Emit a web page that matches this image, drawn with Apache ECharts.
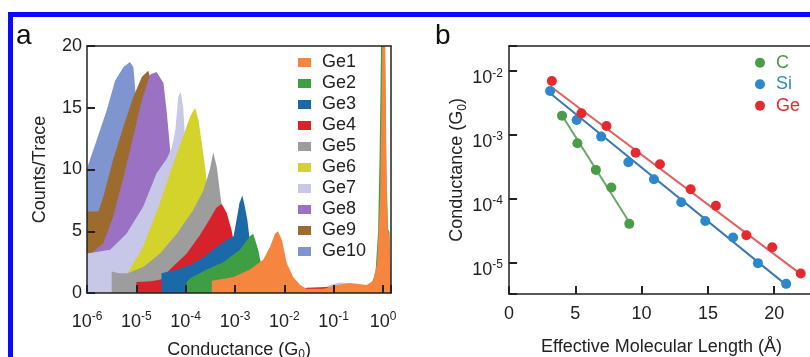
<!DOCTYPE html>
<html>
<head>
<meta charset="utf-8">
<script src="https://cdn.jsdelivr.net/npm/echarts@6/dist/echarts.min.js"></script>
<style>html,body{margin:0;padding:0;background:#fff}#c{width:810px;height:357px}</style>
</head>
<body>
<div id="c"></div>
<script>
// ---------- Panel a: conductance histograms ([conductance G0, counts/trace]) ----------
const namesA = ['Ge1','Ge2','Ge3','Ge4','Ge5','Ge6','Ge7','Ge8','Ge9','Ge10'];
const colorsA = ['#f5853f','#3f9e44','#1b69a8','#d8222b','#9d9d9d','#d3d32b','#c7c7e8','#9b72c3','#9e6b2f','#7f95d0'];

const ge1 = [[3.39e-4,1.0],[9.33e-4,1.3],[2.0e-3,1.9],[3.72e-3,2.7],[5.13e-3,3.75],[6.46e-3,4.8],[7.41e-3,5.0],[8.91e-3,4.3],[1.12e-2,2.4],[1.51e-2,1.3],[2.09e-2,0.65],[2.82e-2,0.35],[6.31e-2,0.35],[0.1,0.6],[0.214,0.8],[0.468,0.65],[0.631,1.0],[0.759,2.4],[0.871,7.5],[0.933,15.6],[0.977,22],[1.047,26],[1.096,22],[1.175,10],[1.259,5],[1.349,4.6],[1.45,4.6]];
const ge2 = [[1.05e-4,0.9],[1.23e-4,1.2],[2.69e-4,1.9],[5.75e-4,2.5],[1.26e-3,3.5],[2.0e-3,4.6],[2.34e-3,4.8],[2.95e-3,3.5],[3.47e-3,2.1],[4.07e-3,1.3],[5.01e-3,0.8],[7.94e-3,0.2],[0.5,0.2],[0.631,1.1],[0.708,1.8],[0.794,5],[0.851,11],[0.912,20],[0.955,26],[1.047,26],[1.096,20],[1.175,9],[1.259,5.2],[1.349,4.9],[1.45,4.9]];
const ge3 = [[3.24e-5,1.6],[6.61e-5,1.9],[1.23e-4,2.27],[2.29e-4,2.9],[4.27e-4,3.75],[6.76e-4,4.3],[9.33e-4,4.6],[1.07e-3,5.9],[1.23e-3,7.26],[1.41e-3,7.9],[1.58e-3,7.0],[1.78e-3,5.9],[1.95e-3,4.6],[2.24e-3,3],[2.82e-3,1],[3.55e-3,0]];
const ge4 = [[1e-5,0.9],[2.0e-5,0.95],[3.16e-5,1.1],[4.79e-5,1.9],[1.05e-4,3.2],[1.95e-4,4.7],[3.09e-4,6.0],[4.17e-4,6.9],[5.37e-4,7.2],[6.76e-4,6.5],[8.51e-4,5.1],[1e-3,3.5],[1.26e-3,1],[1.58e-3,0],[2.0e-2,0],[2.82e-2,0.42],[0.1,0.5],[0.126,0]];
const ge5 = [[3.16e-6,1.75],[4.47e-6,1.6],[6.61e-6,1.6],[1.38e-5,2.1],[3.02e-5,3.2],[6.61e-5,4.8],[1.41e-4,6.7],[2.29e-4,8.3],[3.09e-4,10.0],[3.63e-4,11.4],[4.27e-4,10.2],[5.01e-4,8.0],[5.62e-4,6.5],[6.31e-4,4],[7.94e-4,1],[1e-3,0]];
const ge6 = [[5.01e-6,1.2],[6.61e-6,1.6],[1.38e-5,3.75],[3.02e-5,7.3],[5.62e-5,10.5],[8.91e-5,12.7],[1.23e-4,14.3],[1.55e-4,15.0],[1.82e-4,14.0],[2.14e-4,12.0],[2.51e-4,10.0],[2.82e-4,8.0],[3.16e-4,4],[3.98e-4,0.5],[5.01e-4,0]];
const ge7 = [[1e-6,3.2],[2.95e-6,3.5],[6.31e-6,4.8],[1.38e-5,7.0],[2.57e-5,9.7],[4.17e-5,10.9],[5.25e-5,11.8],[6.17e-5,13.2],[7.08e-5,15.9],[7.94e-5,16.3],[8.91e-5,15.0],[9.55e-5,13.0],[1.12e-4,6],[1.41e-4,1],[2.0e-4,0],[4.0e-2,0],[7.9e-2,0.6],[0.126,0.85],[0.2,0.8],[0.3,0.5],[0.4,0]];
const ge8 = [[1e-6,2.5],[1.26e-6,3.2],[1.58e-6,3.6],[2.14e-6,4.0],[3.39e-6,6.2],[5.5e-6,9.4],[8.71e-6,12.7],[1.29e-5,15.6],[1.91e-5,17.7],[2.57e-5,17.9],[3.55e-5,17.0],[4.17e-5,14.5],[4.79e-5,11.8],[5.25e-5,9],[6.31e-5,4],[7.94e-5,0.5],[1e-4,0]];
const ge9 = [[1e-6,6.6],[1.7e-6,6.6],[2.14e-6,7.8],[3.39e-6,10.8],[5.5e-6,13.5],[8.71e-6,15.9],[1.29e-5,17.5],[1.74e-5,18.0],[2.0e-5,17.2],[2.29e-5,12],[2.63e-5,3],[3.16e-5,0]];
const ge10 = [[1e-6,10.1],[1.58e-6,12.4],[2.51e-6,14.8],[3.72e-6,17.2],[5.5e-6,18.3],[7.41e-6,18.7],[8.71e-6,18.3],[9.77e-6,15.9],[1.12e-5,12],[1.41e-5,3],[1.78e-5,0]];
const dataA = [ge1, ge2, ge3, ge4, ge5, ge6, ge7, ge8, ge9, ge10];

// ---------- Panel b: conductance vs effective molecular length ----------
const lengthC = [4.0, 5.16, 6.55, 7.72, 9.07];
const condC = [1.98e-3, 7.3e-4, 2.8e-4, 1.48e-4, 4.0e-5];
const lengthSi = [3.1, 5.1, 6.95, 9.0, 10.93, 12.99, 14.8, 16.9, 18.77, 20.9];
const condSi = [4.8e-3, 1.69e-3, 9.3e-4, 3.68e-4, 2.0e-4, 8.7e-5, 4.44e-5, 2.44e-5, 9.7e-6, 4.6e-6];
const lengthGe = [3.23, 5.46, 7.35, 9.55, 11.38, 13.7, 15.6, 17.9, 19.85, 22.0];
const condGe = [6.9e-3, 2.15e-3, 1.36e-3, 5.2e-4, 3.43e-4, 1.39e-4, 7.7e-5, 2.65e-5, 1.72e-5, 6.7e-6];
// fitted lines (end points)
const fitC = [[3.98, 2.03e-3], [9.12, 4.08e-5]];
const fitSi = [[3.1, 4.43e-3], [20.9, 4.43e-6]];
const fitGe = [[3.16, 5.6e-3], [22.08, 6.35e-6]];
const namesB = ['C', 'Si', 'Ge'];
const pointColorsB = ['#4a9c47', '#2d87cc', '#e42a2f'];
const lineColorsB = ['#6aa867', '#3b79b4', '#e3605e'];

// ---------- chart ----------
const FONT = 'Liberation Sans, Arial, Helvetica, sans-serif';
const TXT = '#222';
const AX = '#222';

const supRich = {
  b: {fontSize: 18, fontFamily: FONT, color: TXT, lineHeight: 20, verticalAlign: 'bottom'},
  s: {fontSize: 12, fontFamily: FONT, color: TXT, lineHeight: 12, verticalAlign: 'top', padding: [0, 0, 13, 0]}
};
const subRich = {
  n: {fontSize: 18, fontFamily: FONT, color: TXT, lineHeight: 22},
  sub: {fontSize: 12, fontFamily: FONT, color: TXT, lineHeight: 12, verticalAlign: 'bottom'}
};
function logLabel(v) {
  const e = Math.log10(v);
  const r = Math.round(e);
  if (Math.abs(e - r) > 1e-6) return '';
  return '{b|10}{s|' + r + '}';
}
function frameAxis(grid, pos) {
  return {
    gridIndex: grid, position: pos, type: 'value', z: 5,
    axisLine: {show: true, onZero: false, lineStyle: {color: AX, width: 1.5}},
    axisTick: {show: false}, axisLabel: {show: false}, splitLine: {show: false}
  };
}

const seriesA = [];
for (let i = namesA.length - 1; i >= 0; i--) {
  seriesA.push({
    name: namesA[i], type: 'line', xAxisIndex: 0, yAxisIndex: 0,
    data: dataA[i], symbol: 'none', showSymbol: false, smooth: false,
    lineStyle: {width: 0, color: colorsA[i]},
    itemStyle: {color: colorsA[i]},
    areaStyle: {color: colorsA[i], opacity: 1},
    silent: true, clip: true
  });
}

const ptsB = [
  lengthC.map((x, i) => [x, condC[i]]),
  lengthSi.map((x, i) => [x, condSi[i]]),
  lengthGe.map((x, i) => [x, condGe[i]])
];
const fitsB = [fitC, fitSi, fitGe];
const seriesB = [];
for (let i = 0; i < 3; i++) {
  seriesB.push({
    name: namesB[i] + ' fit', type: 'line', xAxisIndex: 2, yAxisIndex: 2,
    data: fitsB[i], symbol: 'none', lineStyle: {color: lineColorsB[i], width: 2}, silent: true
  });
}
for (let i = 0; i < 3; i++) {
  seriesB.push({
    name: namesB[i], type: 'scatter', xAxisIndex: 2, yAxisIndex: 2,
    data: ptsB[i], symbol: 'circle', symbolSize: 10, itemStyle: {color: pointColorsB[i], opacity: 1}, silent: true, z: 4
  });
}

const option = {
  animation: false,
  backgroundColor: '#fff',
  textStyle: {fontFamily: FONT, color: TXT},
  grid: [
    {left: 87, top: 46, right: 419, bottom: 64, containLabel: false, outerBoundsMode: 'none'},
    {left: 509, top: 46, right: -4, bottom: 63, containLabel: false, outerBoundsMode: 'none'}
  ],
  xAxis: [
    {
      gridIndex: 0, type: 'log', logBase: 10, min: 1e-6, max: 1.45, z: 5,
      axisLine: {show: true, onZero: false, lineStyle: {color: AX, width: 1.5}},
      axisTick: {show: true, inside: true, length: 8, lineStyle: {color: AX, width: 2}},
      minorTick: {show: false}, splitLine: {show: false},
      axisLabel: {margin: 18, formatter: logLabel, rich: supRich},
      name: '{n|Conductance (G}{sub|0}{n|)}', nameLocation: 'middle', nameGap: 45,
      nameTextStyle: {rich: subRich}
    },
    frameAxis(0, 'top'),
    {
      gridIndex: 1, type: 'value', min: 0, max: 23, interval: 5, z: 5,
      axisLine: {show: true, onZero: false, lineStyle: {color: AX, width: 1.5}},
      axisTick: {show: true, inside: true, length: 8, lineStyle: {color: AX, width: 2}},
      splitLine: {show: false},
      axisLabel: {margin: 11, fontSize: 18, fontFamily: FONT, color: TXT,
        formatter: v => (v % 5 === 0 ? String(v) : '')},
      name: 'Effective Molecular Length (Å)', nameLocation: 'middle', nameGap: 44,
      nameTextStyle: {fontSize: 18, fontFamily: FONT, color: TXT}
    },
    frameAxis(1, 'top')
  ],
  yAxis: [
    {
      gridIndex: 0, type: 'value', min: 0, max: 20, interval: 5, z: 5,
      axisLine: {show: true, onZero: false, lineStyle: {color: AX, width: 1.5}},
      axisTick: {show: true, inside: true, length: 8, lineStyle: {color: AX, width: 2}},
      splitLine: {show: false},
      axisLabel: {margin: 5, fontSize: 18, fontFamily: FONT, color: TXT},
      name: 'Counts/Trace', nameLocation: 'middle', nameGap: 38, nameRotate: 90,
      nameTextStyle: {fontSize: 18, fontFamily: FONT, color: TXT}
    },
    frameAxis(0, 'right'),
    {
      gridIndex: 1, type: 'log', logBase: 10, min: 3.19e-6, max: 0.02438, z: 5,
      axisLine: {show: true, onZero: false, lineStyle: {color: AX, width: 1.5}},
      axisTick: {show: true, inside: true, length: 8, lineStyle: {color: AX, width: 2}},
      minorTick: {show: false}, splitLine: {show: false},
      axisLabel: {margin: 6, formatter: logLabel, rich: supRich, padding: [13, 0, 0, 0]},
      name: '{n|Conductance (G}{sub|0}{n|)}', nameLocation: 'middle', nameGap: 40, nameRotate: 90,
      nameTextStyle: {rich: subRich}
    }
  ],
  legend: [
    {
      data: namesA, orient: 'vertical', left: 298, top: 52, padding: 0,
      icon: 'rect', itemWidth: 13, itemHeight: 9, itemGap: 0, selectedMode: false,
      textStyle: {fontSize: 18, fontFamily: FONT, color: TXT, lineHeight: 21, padding: [0, 0, 0, 6]}
    },
    {
      data: namesB.map((n, i) => ({name: n, textStyle: {color: pointColorsB[i]}})),
      orient: 'vertical', left: 755, top: 52, padding: 0,
      icon: 'circle', itemWidth: 10, itemHeight: 10, itemGap: 0, selectedMode: false,
      textStyle: {fontSize: 18, fontFamily: FONT, lineHeight: 21.5, padding: [0, 0, 0, 6]}
    }
  ],
  graphic: [
    {type: 'rect', shape: {x: 8, y: 12, width: 810, height: 5}, style: {fill: '#0a0aff'}, z: 100, silent: true},
    {type: 'rect', shape: {x: 8, y: 12, width: 5, height: 360}, style: {fill: '#0a0aff'}, z: 100, silent: true},
    {type: 'text', x: 16, y: 22, style: {text: 'a', fontSize: 28, fontFamily: FONT, fill: '#111', align: 'left', verticalAlign: 'top'}, z: 100, silent: true},
    {type: 'text', x: 435, y: 22, style: {text: 'b', fontSize: 28, fontFamily: FONT, fill: '#111', align: 'left', verticalAlign: 'top'}, z: 100, silent: true}
  ],
  series: seriesA.concat(seriesB)
};

const chart = echarts.init(document.getElementById('c'), null, {renderer: 'canvas'});
chart.setOption(option);
</script>
</body>
</html>
